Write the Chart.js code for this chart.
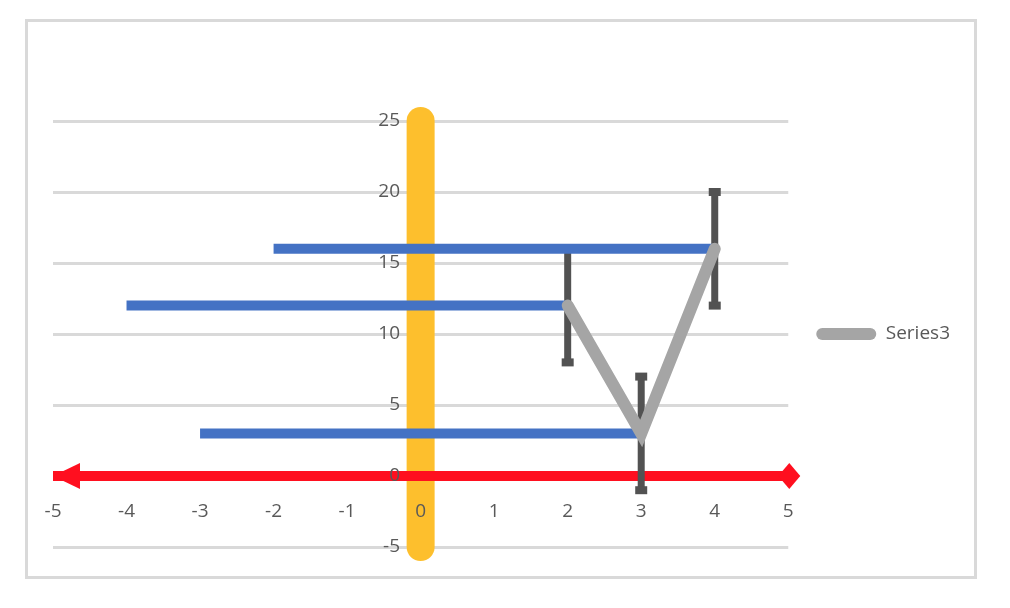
<!DOCTYPE html>
<html>
<head>
<meta charset="utf-8">
<script src="https://cdn.jsdelivr.net/npm/chart.js@4.4.1/dist/chart.umd.min.js"></script>
<style>
  html, body { margin: 0; padding: 0; background: #fff; }
  #frame { position: absolute; left: 25px; top: 19px; width: 952px; height: 560px; box-sizing: border-box; border: 3px solid #d9d9d9; }
  #c { position: absolute; left: 0; top: 0; }
</style>
</head>
<body>
<div id="frame"></div>
<canvas id="c" width="1010" height="608"></canvas>
<script>
// Series3 points + error bar amounts
const xValues = [2, 3, 4];
const yValues = [12, 3, 16];
const yErrPlus = [4, 4, 4];
const yErrMinus = [4, 4, 4];
const xErrMinus = [6, 6, 6];

// axis ranges
const xMin = -5, xMax = 5, xStep = 1;
const yMin = -5, yMax = 25, yStep = 5;

const txt = '#595959';
const font = { family: 'Open Sans', size: 19 };

const datasets = [];

// y axis drawn as a thick rounded bar at x = 0
datasets.push({
  label: 'yAxisLine',
  data: [{ x: 0, y: yMin }, { x: 0, y: yMax }],
  borderColor: '#fdbf2d', borderWidth: 28, borderCapStyle: 'round',
  pointRadius: 0, order: 5
});

// x axis drawn as a red line with arrow / diamond ends
datasets.push({
  label: 'xAxisLine',
  data: [{ x: xMin, y: 0 }, { x: xMax, y: 0 }],
  borderColor: '#ff0f1f', borderWidth: 10,
  pointRadius: 0, order: 4
});

// vertical error bars
xValues.forEach((x, i) => {
  datasets.push({
    label: 'yErr' + i,
    data: [{ x: x, y: yValues[i] - yErrMinus[i] }, { x: x, y: yValues[i] + yErrPlus[i] }],
    borderColor: '#525252', borderWidth: 7,
    pointStyle: 'line', pointRadius: 6, pointBorderWidth: 8, pointBorderColor: '#525252',
    order: 3
  });
});

// horizontal (minus) error bars
xValues.forEach((x, i) => {
  datasets.push({
    label: 'xErr' + i,
    data: [{ x: x - xErrMinus[i], y: yValues[i] }, { x: x, y: yValues[i] }],
    borderColor: '#4472c4', borderWidth: 10,
    pointRadius: 0, order: 2
  });
});

datasets.push({
  label: 'Series3',
  data: xValues.map((x, i) => ({ x: x, y: yValues[i] })),
  borderColor: '#a5a5a5', backgroundColor: '#a5a5a5', borderWidth: 12,
  borderCapStyle: 'round', borderJoinStyle: 'miter',
  pointRadius: 0, order: 1
});

datasets.forEach(d => { d.showLine = true; d.clip = false; });

// arrow head on the left end, diamond on the right end of the red axis
const axisEnds = {
  id: 'axisEnds',
  afterDatasetDraw(chart, args) {
    if (chart.data.datasets[args.index].label !== 'xAxisLine') return;
    const pts = args.meta.data;
    const a = pts[0], b = pts[pts.length - 1];
    const ctx = chart.ctx;
    ctx.save();
    ctx.fillStyle = '#ff0f1f';
    ctx.beginPath();
    ctx.moveTo(a.x, a.y);
    ctx.lineTo(a.x + 27, a.y - 13);
    ctx.lineTo(a.x + 27, a.y + 13);
    ctx.closePath();
    ctx.fill();
    ctx.beginPath();
    ctx.moveTo(b.x + 1, b.y - 13);
    ctx.lineTo(b.x + 12, b.y);
    ctx.lineTo(b.x + 1, b.y + 13);
    ctx.lineTo(b.x - 10, b.y);
    ctx.closePath();
    ctx.fill();
    ctx.restore();
  }
};

function draw() {
  new Chart(document.getElementById('c'), {
    type: 'scatter',
    data: { datasets: datasets },
    plugins: [axisEnds],
    options: {
      responsive: false,
      animation: false,
      layout: { padding: { left: 53, top: 121, bottom: 61, right: 50 } },
      scales: {
        y: {
          type: 'linear', position: { x: -0.28 }, min: yMin, max: yMax,
          ticks: { stepSize: yStep, color: txt, font: font, padding: 0, z: 1 },
          grid: { color: '#d9d9d9', lineWidth: 3, drawTicks: false },
          border: { display: false },
          afterFit: s => { s.width = 0; }
        },
        x: {
          type: 'linear', position: { y: 0 }, min: xMin, max: xMax,
          ticks: { stepSize: xStep, color: txt, font: font, padding: 24, z: 1 },
          grid: { display: false, drawTicks: false },
          border: { display: false },
          afterFit: s => { s.height = 0; }
        }
      },
      plugins: {
        tooltip: { enabled: false },
        legend: {
          position: 'right',
          labels: {
            boxWidth: 60, boxHeight: 12, padding: 28, color: txt, font: font,
            generateLabels: chart => Chart.defaults.plugins.legend.labels.generateLabels(chart)
              .filter(l => l.text === 'Series3')
              .map(l => Object.assign(l, { lineWidth: 0, fillStyle: '#a5a5a5', borderRadius: 6 }))
          }
        }
      }
    }
  });
}

document.fonts.load('19px "Open Sans"').then(draw, draw);
</script>
</body>
</html>
